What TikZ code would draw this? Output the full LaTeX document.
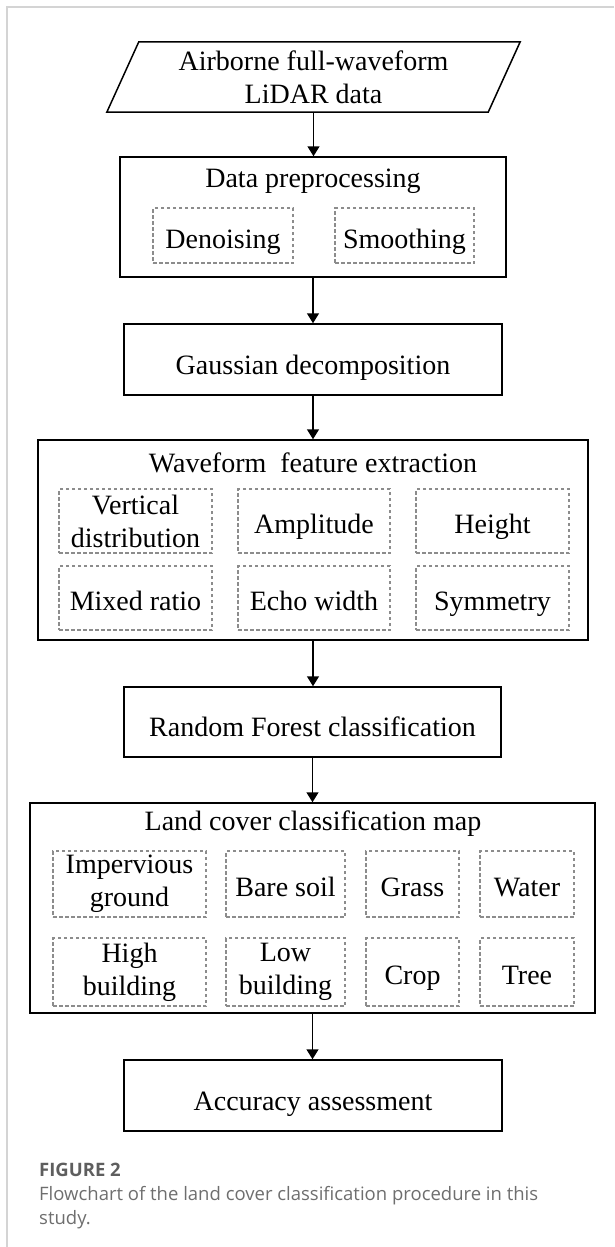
\documentclass[tikz,border=0pt]{standalone}
\usepackage{fontspec}
\setmainfont{Liberation Serif}
\newfontfamily\capfont{Open Sans}
\usetikzlibrary{arrows.meta}
\definecolor{framec}{HTML}{D4D4D4}
\definecolor{dgray}{HTML}{8C8C8C}
\definecolor{capgray}{HTML}{6E6E6E}
\definecolor{figgray}{HTML}{5E5E5E}
\newcommand{\bfs}{\fontsize{28}{33}\selectfont}
\begin{document}
\begin{tikzpicture}[x=1pt,y=-1pt,
  box/.style={draw=black, line width=1.5pt, inner sep=0pt, minimum width=#1, font=\bfs, text height=29pt, text depth=0pt},
  dbox/.style={draw=dgray, dash pattern=on 3.5pt off 2.5pt, line width=1.2pt, inner sep=0pt, align=center, font=\bfs},
  sl/.style={text height=25pt, text depth=0pt},
  lbl/.style={inner sep=0pt, font=\bfs, align=center},
  arr/.style={-{Triangle[width=12pt,length=10pt]}, line width=1.5pt},
  capt/.style={anchor=base west, inner sep=0pt, font=\capfont\fontsize{18.5}{18.5}\selectfont, text=capgray}]
\useasboundingbox (0,0) rectangle (614,1247);
\draw[framec, line width=1.2pt] (614,7) -- (7,7) -- (7,1247);

% input parallelogram
\node[lbl, minimum width=381pt, minimum height=70pt] (src) at (313.5,77) {Airborne full-waveform\\LiDAR data};
\draw[line width=1.5pt] ([xshift=-16pt]src.south west) -- ([xshift=-16pt]src.south east)
  -- ([xshift=16pt]src.north east) -- ([xshift=16pt]src.north west) -- cycle;

% data preprocessing
\node[draw=black, line width=1.5pt, inner sep=0pt, minimum width=386pt, minimum height=120pt] (dp) at (313,217) {};
\node[lbl] (dpt) at (313,181) {Data preprocessing};
\node[dbox, sl, minimum width=140pt, minimum height=55pt] (den) at (223,235.5) {Denoising};
\node[dbox, sl, minimum width=139pt, minimum height=55pt] (smo) at (404.5,235.5) {Smoothing};

% gaussian
\node[box=378pt, minimum height=71pt] (gd) at (313,359.5) {Gaussian decomposition};

% waveform features
\node[draw=black, line width=1.5pt, inner sep=0pt, minimum width=550pt, minimum height=200pt] (wf) at (313,540) {};
\node[lbl] (wft) at (313,463) {Waveform\ \ feature extraction};
\node[dbox, minimum width=153pt, minimum height=64pt] (vd) at (135.5,521) {Vertical\\distribution};
\node[dbox, sl, minimum width=152pt, minimum height=64pt] (amp) at (314,521) {Amplitude};
\node[dbox, sl, minimum width=153pt, minimum height=64pt] (hei) at (492.5,521) {Height};
\node[dbox, sl, minimum width=153pt, minimum height=64pt] (mr) at (135.5,598) {Mixed ratio};
\node[dbox, sl, minimum width=152pt, minimum height=64pt] (ew) at (314,598) {Echo width};
\node[dbox, sl, minimum width=153pt, minimum height=64pt] (sym) at (492.5,598) {Symmetry};

% random forest
\node[box=377pt, minimum height=70pt] (rf) at (312.5,722) {Random Forest classification};

% land cover
\node[draw=black, line width=1.5pt, inner sep=0pt, minimum width=565pt, minimum height=210pt] (lc) at (312.5,908) {};
\node[lbl] (lct) at (313,824) {Land cover classification map};
\node[dbox, minimum width=153pt, minimum height=66pt] (imp) at (129.5,884) {Impervious\\ground};
\node[dbox, sl, minimum width=119pt, minimum height=66pt] (bs) at (285.5,884) {Bare soil};
\node[dbox, sl, minimum width=93pt, minimum height=66pt] (gr) at (412.5,884) {Grass};
\node[dbox, sl, minimum width=94pt, minimum height=66pt] (wa) at (527,884) {Water};
\node[dbox, minimum width=153pt, minimum height=68pt] (hb) at (129.5,972) {High\\building};
\node[dbox, minimum width=119pt, minimum height=68pt] (lb) at (285.5,972) {Low\\building};
\node[dbox, sl, minimum width=93pt, minimum height=68pt] (cr) at (412.5,972) {Crop};
\node[dbox, sl, minimum width=94pt, minimum height=68pt] (tr) at (527,972) {Tree};

% accuracy
\node[box=378pt, minimum height=71pt] (acc) at (313,1095.5) {Accuracy assessment};

% connectors
\draw[arr] (src.south) -- (src.south |- dp.north);
\draw[arr] (dp.south) -- (dp.south |- gd.north);
\draw[arr] (gd.south) -- (gd.south |- wf.north);
\draw[arr] (wf.south) -- (wf.south |- rf.north);
\draw[arr] (rf.south) -- (rf.south |- lc.north);
\draw[arr] (lc.south) -- (lc.south |- acc.north);

% caption
\node[capt, font=\capfont\bfseries\fontsize{18.5}{18.5}\selectfont, text=figgray] (fig) at (39,1176) {FIGURE 2};
\node[capt] (cap1) at (39,1200) {Flowchart of the land cover classification procedure in this};
\node[capt] (cap2) at (39,1224) {study.};
\end{tikzpicture}
\end{document}
